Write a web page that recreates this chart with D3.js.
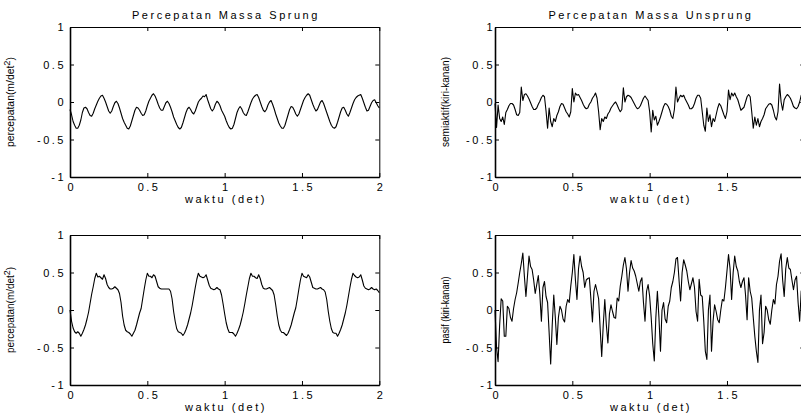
<!DOCTYPE html>
<html>
<head>
<meta charset="utf-8">
<script src="https://cdn.jsdelivr.net/npm/d3@7"></script>
<style>
  body { margin: 0; background: #fff; }
  svg { display: block; }
  text { font-family: "Liberation Sans", Arial, Helvetica, sans-serif; fill: #000; }
  .spaced { font-size: 11px; letter-spacing: 2.5px; }
  .ylab { font-size: 10px; }
</style>
</head>
<body>
<svg id="chart" width="801" height="416"></svg>
<script>
// Sampling interval of every series (seconds)
const dt = 0.01;

// Sprung-mass acceleration, semi-active suspension (m/det^2)
const sprungSemiaktif = [
  -0.10,-0.17,-0.26,-0.31,-0.35,-0.35,-0.31,-0.24,-0.14,-0.08,
  -0.07,-0.09,-0.14,-0.18,-0.19,-0.15,-0.09,-0.04,0.01,0.05,
  0.08,0.09,0.05,0.00,-0.06,-0.12,-0.15,-0.12,-0.06,-0.01,
  0.01,-0.02,-0.08,-0.15,
  -0.22,-0.27,-0.31,-0.35,-0.36,-0.32,-0.25,-0.18,-0.11,-0.07,
  -0.08,-0.11,-0.15,-0.18,-0.17,-0.12,-0.05,0.01,0.05,0.09,
  0.11,0.08,0.03,-0.03,-0.08,-0.11,-0.11,-0.06,-0.01,0.01,
  -0.02,-0.07,-0.13,
  -0.20,-0.25,-0.30,-0.34,-0.36,-0.34,-0.28,-0.21,-0.14,-0.09,
  -0.07,-0.10,-0.14,-0.16,-0.12,-0.06,0.00,0.03,0.05,0.08,
  0.07,0.10,0.03,-0.03,-0.09,-0.12,-0.09,-0.03,0.01,-0.01,
  -0.05,-0.11,-0.15,
  -0.19,-0.25,-0.30,-0.34,-0.36,-0.35,-0.30,-0.22,-0.14,-0.09,
  -0.06,-0.09,-0.14,-0.17,-0.18,-0.13,-0.07,-0.01,0.04,0.07,
  0.09,0.10,0.06,0.00,-0.06,-0.11,-0.13,-0.10,-0.04,0.00,
  0.02,-0.03,-0.09,-0.16,
  -0.22,-0.28,-0.32,-0.35,-0.35,-0.31,-0.24,-0.17,-0.10,-0.06,
  -0.07,-0.11,-0.16,-0.19,-0.16,-0.10,-0.04,0.02,0.06,0.09,
  0.11,0.09,0.03,-0.03,-0.08,-0.12,-0.10,-0.05,0.00,0.02,
  -0.02,-0.08,-0.14,
  -0.20,-0.26,-0.31,-0.34,-0.35,-0.33,-0.27,-0.20,-0.13,-0.08,
  -0.07,-0.11,-0.16,-0.19,-0.14,-0.08,-0.02,0.03,0.06,0.08,
  0.09,0.10,0.05,-0.01,-0.07,-0.12,-0.11,-0.06,-0.01,0.02,
  0.03,-0.01,-0.05,-0.08
];

// Unsprung-mass acceleration, semi-active suspension
const unsprungSemiaktif = [
  -0.02,-0.34,-0.04,-0.22,-0.26,-0.20,-0.30,-0.14,-0.10,-0.05,
  -0.02,-0.02,-0.04,-0.10,-0.17,-0.18,-0.14,0.20,0.02,0.10,
  0.11,0.08,0.04,-0.01,-0.06,-0.10,-0.10,-0.08,-0.03,0.01,
  0.06,0.09,0.07,-0.12,-0.35,-0.08,-0.26,-0.33,-0.22,-0.26,
  -0.18,-0.13,-0.06,-0.02,-0.03,-0.08,-0.13,-0.16,-0.20,-0.13,
  0.18,0.00,0.12,0.09,0.10,0.06,0.02,-0.03,-0.07,-0.09,
  -0.08,-0.03,0.00,0.05,0.08,0.12,0.05,-0.13,-0.37,-0.22,
  -0.26,-0.20,-0.22,-0.16,-0.13,-0.08,-0.05,-0.02,0.00,-0.04,
  -0.09,-0.13,-0.10,0.19,0.00,0.07,0.09,0.08,0.06,0.02,
  -0.02,-0.06,-0.09,-0.08,-0.05,0.00,0.05,0.08,0.05,0.02,
  -0.13,-0.40,-0.11,-0.24,-0.19,-0.31,-0.26,-0.20,-0.13,-0.06,
  -0.02,-0.03,-0.06,-0.11,-0.19,-0.22,-0.10,0.20,0.00,0.05,
  0.09,0.07,0.09,0.04,0.00,-0.04,-0.09,-0.09,-0.07,-0.02,
  0.05,0.09,0.09,0.05,-0.13,-0.31,-0.39,-0.08,-0.26,-0.17,
  -0.33,-0.22,-0.26,-0.17,-0.08,-0.02,-0.05,-0.11,-0.17,-0.22,
  -0.13,0.16,0.03,0.12,0.08,0.12,0.07,0.03,-0.04,-0.11,
  -0.09,-0.07,0.00,0.07,0.10,0.07,-0.13,-0.35,-0.20,-0.31,
  -0.22,-0.33,-0.26,-0.22,-0.17,-0.09,-0.06,-0.03,-0.02,-0.04,
  -0.11,-0.20,-0.24,-0.13,0.24,0.00,-0.11,0.03,0.07,0.10,
  0.08,0.05,0.00,-0.06,-0.08,-0.09,-0.06,0.00,0.09,0.10,
  0.10
];

// Sprung-mass acceleration, passive suspension (m/det^2)
const sprungPasif = [
  0.00,-0.15,-0.24,-0.29,-0.31,-0.29,-0.31,-0.35,-0.31,-0.26,
  -0.20,-0.12,-0.03,0.09,0.21,0.31,0.42,0.49,0.44,0.45,
  0.43,0.41,0.47,0.42,0.34,0.30,0.28,0.28,0.29,0.31,
  0.29,0.27,0.22,0.10,
  -0.08,-0.20,-0.27,-0.29,-0.30,-0.32,-0.35,-0.31,-0.27,-0.20,
  -0.12,-0.04,0.02,0.15,0.28,0.40,0.49,0.45,0.45,0.43,
  0.47,0.45,0.38,0.31,0.29,0.28,0.28,0.28,0.28,0.28,
  0.28,0.25,0.15,
  -0.02,-0.15,-0.25,-0.29,-0.30,-0.31,-0.34,-0.31,-0.26,-0.20,
  -0.12,-0.04,0.06,0.18,0.30,0.41,0.49,0.45,0.44,0.43,
  0.44,0.47,0.40,0.33,0.29,0.28,0.27,0.28,0.30,0.28,
  0.27,0.20,0.08,
  -0.05,-0.17,-0.25,-0.30,-0.30,-0.30,-0.32,-0.35,-0.31,-0.26,
  -0.20,-0.12,-0.03,0.08,0.20,0.31,0.42,0.49,0.45,0.45,
  0.43,0.42,0.47,0.42,0.34,0.29,0.28,0.28,0.29,0.30,
  0.28,0.26,0.20,0.07,
  -0.08,-0.20,-0.27,-0.30,-0.30,-0.32,-0.34,-0.31,-0.26,-0.20,
  -0.12,-0.04,0.03,0.15,0.28,0.40,0.49,0.45,0.44,0.43,
  0.47,0.44,0.37,0.30,0.29,0.28,0.28,0.29,0.30,0.28,
  0.27,0.24,0.14,
  -0.02,-0.15,-0.25,-0.30,-0.31,-0.31,-0.35,-0.31,-0.26,-0.20,
  -0.12,-0.04,0.06,0.18,0.30,0.41,0.49,0.46,0.44,0.43,
  0.44,0.47,0.40,0.32,0.29,0.28,0.27,0.28,0.30,0.28,
  0.27,0.28,0.26,0.23
];

// Unsprung-mass acceleration, passive suspension
const unsprungPasif = [
  0.00,-0.50,-0.69,-0.20,0.15,0.12,-0.35,-0.35,0.05,0.02,
  -0.10,-0.15,0.02,0.14,0.23,0.36,0.50,0.62,0.76,0.45,
  0.18,0.45,0.72,0.58,0.54,0.40,0.22,0.34,0.46,0.21,
  -0.15,0.30,0.38,0.18,0.10,-0.30,-0.72,-0.20,0.20,-0.10,
  -0.46,-0.10,0.05,0.00,-0.12,-0.16,0.05,0.14,0.10,0.32,
  0.50,0.74,0.40,0.14,0.55,0.72,0.58,0.50,0.30,0.40,
  0.42,0.43,0.15,-0.16,0.25,0.34,0.25,0.15,-0.25,-0.62,
  -0.20,0.14,-0.20,-0.44,-0.05,0.07,-0.02,-0.10,-0.11,0.16,
  0.12,0.32,0.45,0.60,0.70,0.55,0.25,0.50,0.66,0.56,
  0.52,0.45,0.35,0.25,0.38,0.43,0.10,-0.15,0.25,0.34,
  0.18,-0.10,-0.45,-0.68,-0.10,0.25,-0.10,-0.55,0.00,0.10,
  -0.12,-0.17,0.05,0.12,0.30,0.38,0.50,0.68,0.70,0.40,
  0.12,0.50,0.67,0.60,0.52,0.38,0.27,0.35,0.43,0.30,
  -0.02,-0.15,0.41,0.20,0.18,-0.15,-0.55,-0.66,0.00,0.20,
  -0.55,-0.15,0.07,-0.02,-0.13,-0.17,0.00,0.14,0.12,0.30,
  0.52,0.74,0.55,0.14,0.50,0.72,0.58,0.52,0.38,0.30,
  0.38,0.43,0.20,-0.13,0.43,0.25,0.16,-0.10,-0.35,-0.55,
  -0.70,0.00,0.20,-0.45,-0.30,0.05,0.00,-0.13,-0.19,0.00,
  0.14,0.08,0.34,0.45,0.65,0.75,0.40,0.18,0.55,0.70,
  0.56,0.54,0.40,0.27,0.40,0.45,0.10,-0.15,0.25,0.30,
  0.25
];

// Axis ticks and text
const xTicks = [0, 0.5, 1, 1.5, 2];
const xTickLabels = ["0", "0.5", "1", "1.5", "2"];
const yTicks = [-1, -0.5, 0, 0.5, 1];
const yTickLabels = ["-1", "-0.5", "0", "0.5", "1"];
const titles = ["Percepatan Massa Sprung", "Percepatan Massa Unsprung"];
const xAxisLabel = "waktu (det)";

// Panel layout (2 x 2 subplots)
const panels = [
  { values: sprungSemiaktif,   left: 70,  top: 27,  title: titles[0], ylab: ["percepatan(m/det", "2", ")"], ylabLen: 90, ylabX: 14, labGap: 6.5 },
  { values: unsprungSemiaktif, left: 495, top: 27,  title: titles[1], ylab: ["semiaktif(kiri-kanan)"],     ylabLen: 90, ylabX: 449, labGap: 2.5 },
  { values: sprungPasif,       left: 70,  top: 235, title: null,      ylab: ["percepatan(m/det", "2", ")"], ylabLen: 86, ylabX: 14, labGap: 6.5 },
  { values: unsprungPasif,     left: 495, top: 235, title: null,      ylab: ["pasif (kiri-kanan)"],        ylabLen: 67, ylabX: 449, labGap: 2.5 }
];
const plotW = 309.3, plotH = 150, tickLen = 4, spacing = 2.5;

const svg = d3.select("#chart");

panels.forEach(p => {
  const x = d3.scaleLinear().domain([0, 2]).range([p.left, p.left + plotW]);
  const y = d3.scaleLinear().domain([-1, 1]).range([p.top + plotH, p.top]);
  const g = svg.append("g");

  // data trace
  const line = d3.line().x((d, i) => x(i * dt)).y(d => y(d));
  g.append("path")
    .datum(p.values)
    .attr("d", line)
    .attr("fill", "none")
    .attr("stroke", "#000")
    .attr("stroke-width", 1.1)
    .attr("stroke-linejoin", "round");

  // axes with inward ticks on all four sides
  const bottom = g.append("g").attr("transform", `translate(0,${p.top + plotH})`)
    .call(d3.axisBottom(x).tickValues(xTicks).tickSize(-tickLen).tickSizeOuter(0)
      .tickFormat((d, i) => xTickLabels[i]));
  const top = g.append("g").attr("transform", `translate(0,${p.top})`)
    .call(d3.axisTop(x).tickValues(xTicks).tickSize(-tickLen).tickSizeOuter(0).tickFormat(""));
  const leftAx = g.append("g").attr("transform", `translate(${p.left},0)`)
    .call(d3.axisLeft(y).tickValues(yTicks).tickSize(-tickLen).tickSizeOuter(0)
      .tickFormat((d, i) => yTickLabels[i]));
  const rightAx = g.append("g").attr("transform", `translate(${p.left + plotW},0)`)
    .call(d3.axisRight(y).tickValues(yTicks).tickSize(-tickLen).tickSizeOuter(0).tickFormat(""));

  // box: heavier left and bottom edges
  [[bottom, 1.6], [leftAx, 1.6], [top, 1], [rightAx, 1]].forEach(([a, w]) => {
    a.select(".domain").attr("stroke", "#000").attr("stroke-width", w);
    a.selectAll(".tick line").attr("stroke", "#000").attr("stroke-width", 1);
    a.attr("font-family", null).attr("font-size", null);
  });
  top.selectAll("text").remove();
  rightAx.selectAll("text").remove();

  bottom.selectAll(".tick text")
    .attr("class", "spaced")
    .attr("y", 13.7).attr("dy", null)
    .attr("dx", spacing / 2);
  leftAx.selectAll(".tick text")
    .attr("class", "spaced")
    .attr("x", -p.labGap + spacing).attr("dy", "0.36em");

  // x-axis label
  g.append("text").attr("class", "spaced")
    .attr("x", p.left + plotW / 2 + spacing / 2).attr("y", p.top + plotH + 26.3)
    .attr("text-anchor", "middle").text(xAxisLabel);

  // title
  if (p.title) {
    g.append("text").attr("class", "spaced")
      .attr("x", p.left + plotW / 2 + spacing / 2).attr("y", p.top - 7.7)
      .attr("text-anchor", "middle").text(p.title);
  }

  // y-axis label, rotated
  const yl = g.append("text").attr("class", "ylab")
    .attr("transform", `translate(${p.ylabX},${p.top + plotH / 2}) rotate(-90)`)
    .attr("text-anchor", "middle")
    .attr("textLength", p.ylabLen).attr("lengthAdjust", "spacingAndGlyphs");
  yl.append("tspan").text(p.ylab[0]);
  if (p.ylab.length > 1) {
    yl.append("tspan").attr("dy", -4).attr("font-size", "9px").text(p.ylab[1]);
    yl.append("tspan").attr("dy", 4).text(p.ylab[2]);
  }
});
</script>
</body>
</html>
